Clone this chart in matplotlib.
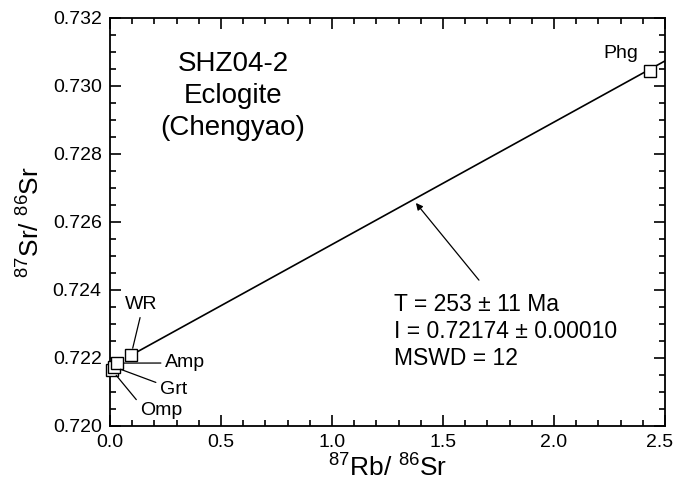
import matplotlib
matplotlib.use("Agg")
import matplotlib.pyplot as plt
from matplotlib.ticker import MultipleLocator, FormatStrFormatter, FuncFormatter

plt.rcParams['font.family'] = ['Liberation Sans', 'DejaVu Sans']
plt.rcParams['mathtext.fontset'] = 'custom'
plt.rcParams['mathtext.rm'] = 'Liberation Sans'
plt.rcParams['mathtext.default'] = 'regular'

# mineral / whole-rock data
samples = ['Omp', 'Grt', 'Amp', 'WR', 'Phg']
rb_sr = [0.008, 0.018, 0.030, 0.095, 2.432]
sr_sr = [0.72165, 0.72174, 0.72185, 0.72209, 0.73044]

# isochron
intercept = 0.72174
slope = 0.003599
line_x = [0.095, 2.6]

fig = plt.figure(figsize=(6.76, 5.0), dpi=100)
ax = fig.add_axes([0.1627, 0.148, 0.821, 0.816])

ax.plot(line_x, [intercept + slope * x for x in line_x], color='black', lw=1.2, zorder=2)
ax.plot(rb_sr, sr_sr, ls='none', marker='s', ms=9, mfc='white', mec='black', mew=1.0,
        zorder=3, clip_on=False)

ax.set_xlim(0, 2.5)
ax.set_ylim(0.720, 0.732)
ax.xaxis.set_major_locator(MultipleLocator(0.5))
ax.xaxis.set_minor_locator(MultipleLocator(0.1))
ax.yaxis.set_major_locator(MultipleLocator(0.002))
ax.yaxis.set_minor_locator(MultipleLocator(0.0005))
# the 2.5 label is drawn by hand below, nudged left so it stays in the figure
ax.xaxis.set_major_formatter(FuncFormatter(lambda v, p: '' if v > 2.45 else f'{v:.1f}'))
ax.yaxis.set_major_formatter(FormatStrFormatter('%.3f'))
ax.tick_params(which='both', direction='in', top=True, right=True, labelsize=14, width=1.2)
ax.tick_params(which='major', length=8, pad=6)
ax.tick_params(which='minor', length=4)
for s in ax.spines.values():
    s.set_linewidth(1.3)
ax.annotate('2.5', xy=(2.5, 0.720), xytext=(-4, -6), textcoords='offset points',
            ha='center', va='top', fontsize=14, annotation_clip=False)

ax.set_xlabel('$^{87}$Rb/ $^{86}$Sr', fontsize=19, labelpad=2)
ax.set_ylabel('$^{87}$Sr/ $^{86}$Sr', fontsize=19, labelpad=6)

ax.text(0.554, 0.72972, 'SHZ04-2\nEclogite\n(Chengyao)', ha='center', va='center',
        fontsize=20, linespacing=1.3)

# sample labels with leaders
lab = dict(fontsize=14, va='center')
ax.annotate('WR', xy=(0.095, 0.72209), xytext=(0.14, 0.72356), ha='center', **lab,
            arrowprops=dict(arrowstyle='-', lw=0.9, relpos=(0.5, 0.0), shrinkA=1, shrinkB=5))
ax.annotate('Amp', xy=(0.030, 0.72185), xytext=(0.248, 0.721853), ha='left', **lab,
            arrowprops=dict(arrowstyle='-', lw=0.9, shrinkA=1, shrinkB=5))
ax.annotate('Grt', xy=(0.018, 0.72174), xytext=(0.225, 0.721088), ha='left', **lab,
            arrowprops=dict(arrowstyle='-', lw=0.9, shrinkA=1, shrinkB=5))
ax.annotate('Omp', xy=(0.008, 0.72165), xytext=(0.135, 0.72047), ha='left', **lab,
            arrowprops=dict(arrowstyle='-', lw=0.9, relpos=(0.05, 0.7), shrinkA=1, shrinkB=5))
ax.text(2.302, 0.73097, 'Phg', ha='center', va='center', fontsize=14)

ax.annotate('', xy=(1.378, 0.72656), xytext=(1.662, 0.72429),
            arrowprops=dict(arrowstyle='-|>', lw=0.9, color='black',
                            mutation_scale=10, shrinkA=0, shrinkB=0))
ax.text(1.28, 0.72391, 'T = 253 ± 11 Ma\nI = 0.72174 ± 0.00010\nMSWD = 12',
        ha='left', va='top', fontsize=16.5, linespacing=1.22)

fig.savefig('out.png', dpi=100)
